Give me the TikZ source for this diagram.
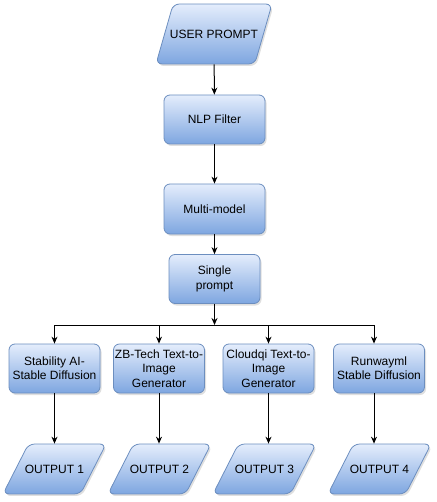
\documentclass[tikz,border=0pt]{standalone}
\usepackage{fontspec}
\setmainfont{Liberation Sans}
\usetikzlibrary{shapes.geometric,shadows,arrows.meta}
\definecolor{boxtop}{RGB}{228,237,252}
\definecolor{boxbot}{RGB}{126,166,224}
\definecolor{boxline}{RGB}{108,142,191}
\newcommand{\slim}[1]{\makebox[0pt]{#1}}
\begin{document}
\begin{tikzpicture}[x=1pt,y=-1pt]
            \tikzstyle{every node}=[font=\fontsize{12}{14.4}\selectfont, align=center, inner sep=0pt]
            \tikzstyle{glass}=[draw=boxline, line width=0.8pt, top color=boxtop, bottom color=boxbot, rounded corners=6pt, drop shadow={opacity=0.25, shadow xshift=1.5pt, shadow yshift=-2pt}]
            \tikzstyle{proc}=[glass, rectangle, minimum width=91pt, minimum height=49pt]
            \tikzstyle{io}=[glass, trapezium, trapezium left angle=63, trapezium right angle=117, trapezium stretches body, inner ysep=20.7pt, minimum width=103pt]
            \tikzstyle{arr}=[-{Stealth[length=7pt,width=6pt]}, line width=1pt]
            \useasboundingbox (0,0) rectangle (436,502);
            % top column
            \node [io, trapezium left angle=74, trapezium right angle=106, inner ysep=25.7pt, minimum width=116pt] (user) at (214,34) {\slim{USER PROMPT}};
            \node [proc, minimum width=101pt] (nlp) at (214.5,119.5) {NLP Filter};
            \node [proc, minimum width=101pt, minimum height=50pt] (multi) at (214.5,209) {Multi-model};
            \node [proc] (single) at (214.5,279) {Single\\prompt};
            \coordinate (jn) at (214.5,325);
            % generators
            \node [proc] (gen1) at (54.5,368.5) {Stability AI-\\Stable Diffusion};
            \node [proc] (gen2) at (159,368.5) {ZB-Tech Text-to-\\Image\\Generator};
            \node [proc] (gen3) at (268.5,368.5) {Cloudqi Text-to-\\Image\\Generator};
            \node [proc] (gen4) at (379,368.5) {Runwayml\\Stable Diffusion};
            % outputs
            \node [io] (out1) at (54.5,469) {\slim{OUTPUT 1}};
            \node [io] (out2) at (159.5,469) {\slim{OUTPUT 2}};
            \node [io] (out3) at (264.5,469) {\slim{OUTPUT 3}};
            \node [io] (out4) at (379.5,469) {\slim{OUTPUT 4}};
            % connectors
            \draw [arr] (user) -- (nlp);
            \draw [arr] (nlp) -- (multi);
            \draw [arr] (multi) -- (single);
            \draw [arr] (single) -- (jn);
            \draw [arr] (jn) -| (gen1.north);
            \draw [arr] (jn) -| (gen2.north);
            \draw [arr] (jn) -| (gen3.north);
            \draw [arr] (jn) -| ([xshift=-5pt]gen4.north);
            \draw [arr] (gen1.south) -- (gen1.south |- out1.north);
            \draw [arr] (gen2.south) -- (gen2.south |- out2.north);
            \draw [arr] (gen3.south) -- (gen3.south |- out3.north);
            \draw [arr] ([xshift=-5pt]gen4.south) -- ([xshift=-5pt]gen4.south |- out4.north);
\end{tikzpicture}
\end{document}
